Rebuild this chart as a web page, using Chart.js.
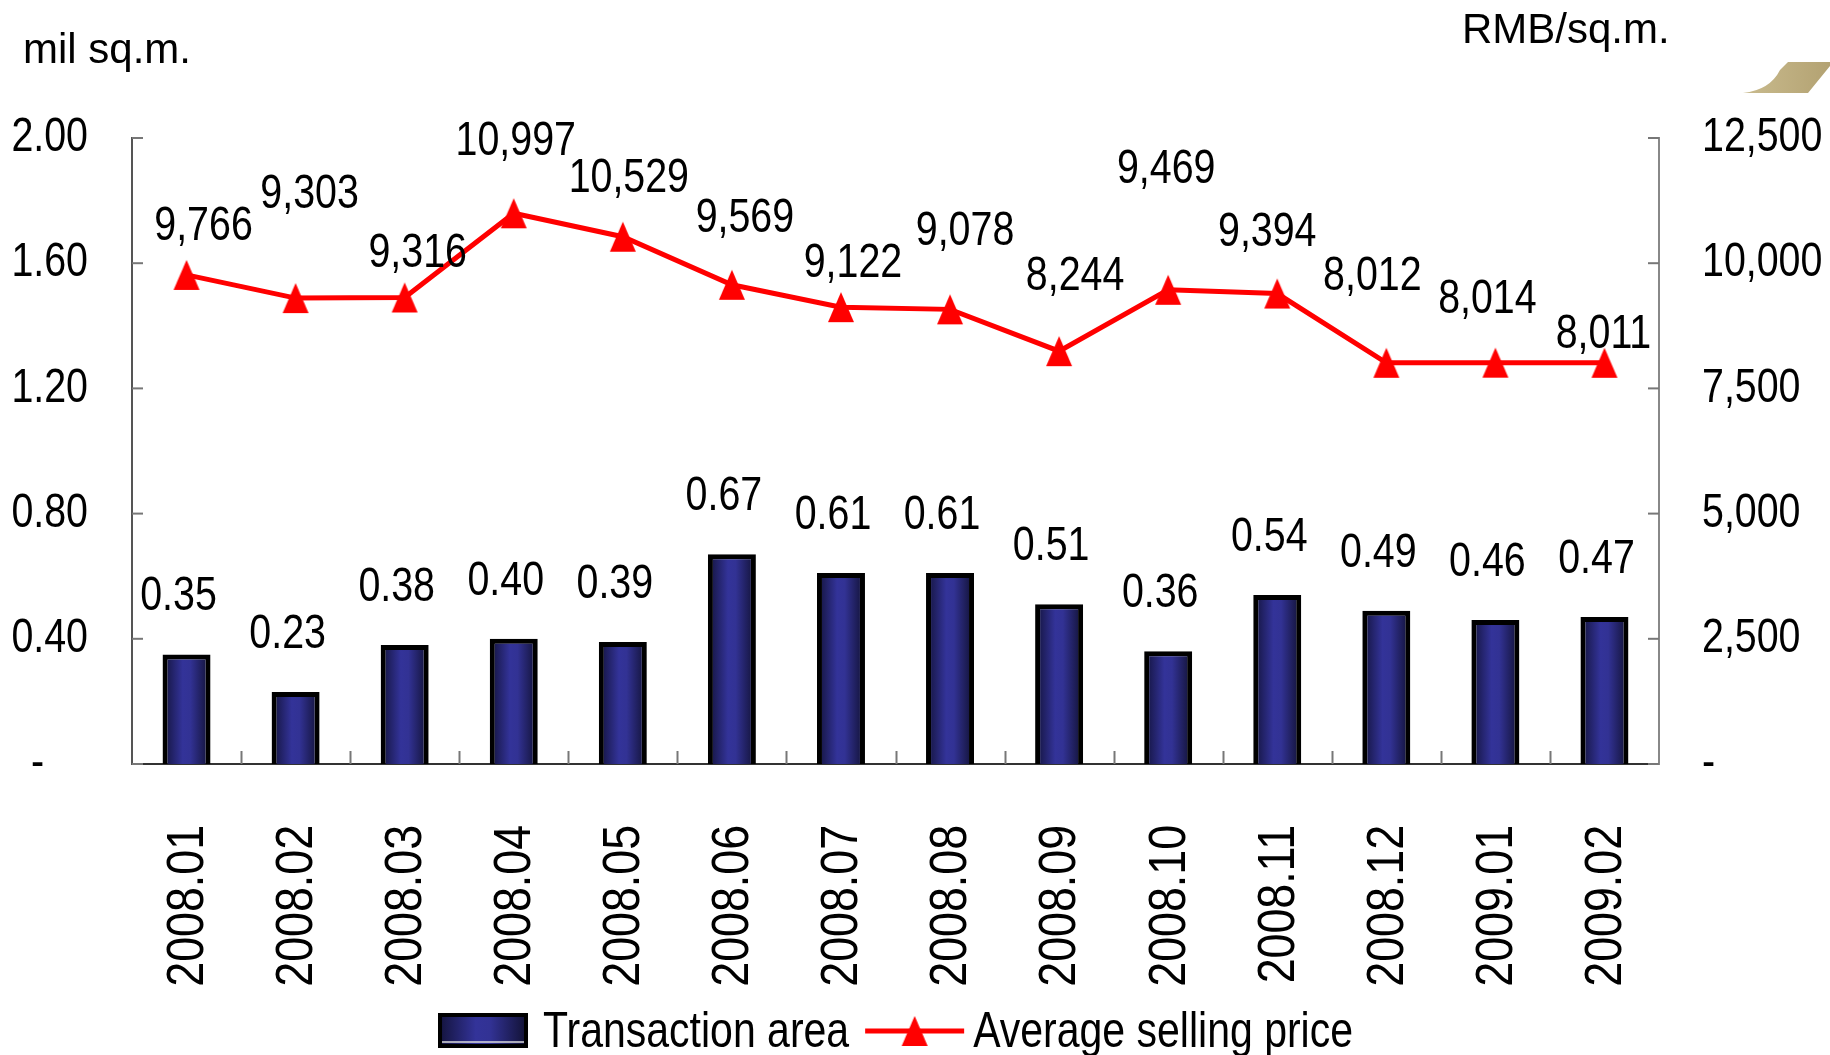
<!DOCTYPE html>
<html><head><meta charset="utf-8">
<script src="https://cdn.jsdelivr.net/npm/chart.js@4.4.1/dist/chart.umd.min.js"></script>
<style>html,body{margin:0;padding:0;background:#fff;overflow:hidden}canvas{display:block}</style>
</head><body>
<canvas id="c" width="1830" height="1055"></canvas>
<script>
const categories = ['2008.01','2008.02','2008.03','2008.04','2008.05','2008.06','2008.07','2008.08','2008.09','2008.10','2008.11','2008.12','2009.01','2009.02'];
const transactionArea = [0.35,0.23,0.38,0.40,0.39,0.67,0.61,0.61,0.51,0.36,0.54,0.49,0.46,0.47];
const avgPrice = [9766,9303,9316,10997,10529,9569,9122,9078,8244,9469,9394,8012,8014,8011];
const seriesNames = ['Transaction area','Average selling price'];
const axisTitles = ['mil sq.m.','RMB/sq.m.'];
const leftAxisRange = [0, 2, 0.4];
const rightAxisRange = [0, 12500, 2500];
// label placement relative to each point (dx, baseline dy) — layout only
const priceLabelOffsets = [[17,-35],[14,-90],[13,-30],[2,-58],[6,-45],[13,-53],[12,-30],[15,-64],[16,-61],[-2,-107],[-10,-48],[-14,-73],[-8,-50],[-1,-15]];

const FAM='"Liberation Sans", Arial, sans-serif';
const leftFmt = v => Math.abs(v)<1e-9 ? '-' : Number(v).toFixed(2);
const rightFmt = v => v===0 ? '-' : Number(v).toLocaleString('en-US');

// condensed text (Arial Narrow look) drawn with a horizontal squeeze along the text direction
function txt(c, s, x, y, size, align, base, squeeze, rot){
  c.save();
  c.translate(x,y);
  if(rot) c.rotate(rot);
  c.scale(squeeze,1);
  c.font=size+'px '+FAM;
  c.textAlign=align; c.textBaseline=base;
  c.fillText(s,0,0);
  c.restore();
}

function makeTriangle(){
  const c=document.createElement('canvas'); c.width=28; c.height=32;
  const g=c.getContext('2d');
  g.fillStyle='#ff0000'; g.beginPath();
  g.moveTo(14,1); g.lineTo(27,31); g.lineTo(1,31); g.closePath(); g.fill();
  return c;
}
const tri=makeTriangle();

function barGradient(ctx2d, cx, half){
  if(!isFinite(cx)||!isFinite(half)||half<=0) return '#333399';
  const g=ctx2d.createLinearGradient(cx-half,0,cx+half,0);
  g.addColorStop(0,'#121238');
  g.addColorStop(0.42,'#333399');
  g.addColorStop(0.58,'#323294');
  g.addColorStop(1,'#101030');
  return g;
}

const customPlugin={
  id:'custom',
  afterDatasetsDraw(chart){
    const c=chart.ctx, xs=chart.scales.x, ys=chart.scales.y, y1=chart.scales.y1, ca=chart.chartArea;
    c.save();
    // inward tick marks
    c.strokeStyle='#777'; c.lineWidth=2;
    const n=categories.length;
    for(let k=1;k<n;k++){
      const px=Math.round(xs.left+k*xs.width/n)+0.5;
      c.beginPath(); c.moveTo(px,ca.bottom); c.lineTo(px,ca.bottom-13); c.stroke();
    }
    ys.ticks.forEach(t=>{const py=ys.getPixelForValue(t.value); c.beginPath(); c.moveTo(ca.left,py); c.lineTo(ca.left+11,py); c.stroke();});
    y1.ticks.forEach(t=>{const py=y1.getPixelForValue(t.value); c.beginPath(); c.moveTo(ca.right,py); c.lineTo(ca.right-11,py); c.stroke();});
    c.fillStyle='#000';
    // tick labels
    ys.ticks.forEach(t=>{
      const py=ys.getPixelForValue(t.value), s=leftFmt(t.value);
      if(s==='-') txt(c,s,44,py,48,'right','middle',0.82);
      else txt(c,s,88,py,48,'right','middle',0.82);
    });
    y1.ticks.forEach(t=>{
      const py=y1.getPixelForValue(t.value);
      txt(c,rightFmt(t.value),ca.right+43,py,48,'left','middle',0.82);
    });
    categories.forEach((lab,i)=>{
      const px=xs.getPixelForValue(i);
      txt(c,lab,px+2,ca.bottom+61,52,'right','middle',0.86,-Math.PI/2);
    });
    // bar labels
    chart.getDatasetMeta(0).data.forEach((el,i)=>{
      txt(c,transactionArea[i].toFixed(2),el.x-8,el.y-44,48,'center','alphabetic',0.82);
    });
    // price labels
    chart.getDatasetMeta(1).data.forEach((el,i)=>{
      const o=priceLabelOffsets[i];
      txt(c,avgPrice[i].toLocaleString('en-US'),el.x+o[0],el.y+o[1],48,'center','alphabetic',0.82);
    });
    c.restore();
  },
  afterDraw(chart){
    const c=chart.ctx, ca=chart.chartArea;
    c.save();
    c.fillStyle='#000'; c.textAlign='left'; c.textBaseline='alphabetic';
    c.font='42px '+FAM;
    c.fillText(axisTitles[0], 23, 63);
    c.fillText(axisTitles[1], 1462, 43);
    // legend
    c.font='50px '+FAM;
    const sq=0.82;
    const w1=c.measureText(seriesNames[0]).width*sq, w2=c.measureText(seriesNames[1]).width*sq;
    const total=90+15+w1+16+99+9+w2;
    let x=(ca.left+ca.right)/2-total/2;
    const cy=1031;
    c.fillStyle=barGradient(c, x+45, 45);
    c.fillRect(x,cy-18,90,35);
    c.strokeStyle='#000'; c.lineWidth=4; c.strokeRect(x+2,cy-16,86,31);
    c.strokeStyle='#ddd'; c.lineWidth=1.5; c.beginPath(); c.moveTo(x+4,cy+11); c.lineTo(x+86,cy+11); c.stroke();
    x+=105;
    c.fillStyle='#000';
    txt(c,seriesNames[0],x,cy+2,50,'left','middle',sq);
    x+=w1+16;
    c.strokeStyle='#ff0000'; c.lineWidth=5; c.beginPath(); c.moveTo(x,cy); c.lineTo(x+99,cy); c.stroke();
    c.drawImage(tri, x+49.5-14, cy-16);
    x+=108;
    c.fillStyle='#000';
    txt(c,seriesNames[1],x,cy+2,50,'left','middle',sq);
    // decorative swoosh top-right
    const g=c.createLinearGradient(1743,0,1830,0);
    g.addColorStop(0,'#c9bb8e'); g.addColorStop(1,'#b3a272');
    c.fillStyle=g; c.beginPath();
    c.moveTo(1743,93); c.quadraticCurveTo(1770,90,1780,70); c.lineTo(1788,62); c.lineTo(1830,62); c.lineTo(1830,66);
    c.lineTo(1808,93); c.closePath(); c.fill();
    c.restore();
  }
};

new Chart(document.getElementById('c'),{
  data:{
    labels:categories,
    datasets:[
      {type:'bar', label:seriesNames[0], data:transactionArea, yAxisID:'y', order:1,
        barPercentage:0.44, categoryPercentage:1,
        borderColor:'#000', borderWidth:5,
        backgroundColor(ctx){
          const ch=ctx.chart, xs=ch.scales && ch.scales.x;
          if(!xs || ctx.type!=='data') return '#333399';
          const cx=xs.getPixelForValue(ctx.dataIndex);
          const half=xs.width/categories.length*0.44/2;
          return barGradient(ch.ctx,cx,half);
        }},
      {type:'line', label:seriesNames[1], data:avgPrice, yAxisID:'y1', order:0,
        borderColor:'#ff0000', borderWidth:5, tension:0,
        pointStyle:tri, pointRadius:14, backgroundColor:'#ff0000'}
    ]
  },
  options:{
    responsive:false, devicePixelRatio:1, animation:false,
    layout:{padding:{top:138,left:0,right:0,bottom:0}},
    plugins:{legend:{display:false}, tooltip:{enabled:false}},
    scales:{
      x:{offset:true, grid:{display:false, drawTicks:false},
        border:{display:true, color:'#333', width:2},
        ticks:{display:false, autoSkip:false},
        afterFit(s){s.height=291;}},
      y:{position:'left', min:leftAxisRange[0], max:leftAxisRange[1],
        grid:{display:false, drawTicks:false}, border:{display:true,color:'#555',width:2},
        ticks:{display:false, stepSize:leftAxisRange[2], callback:leftFmt},
        afterFit(s){s.width=132;}},
      y1:{position:'right', min:rightAxisRange[0], max:rightAxisRange[1],
        grid:{display:false, drawTicks:false}, border:{display:true,color:'#888',width:2},
        ticks:{display:false, stepSize:rightAxisRange[2], callback:rightFmt},
        afterFit(s){s.width=171;}}
    }
  },
  plugins:[customPlugin]
});
</script>
</body></html>
